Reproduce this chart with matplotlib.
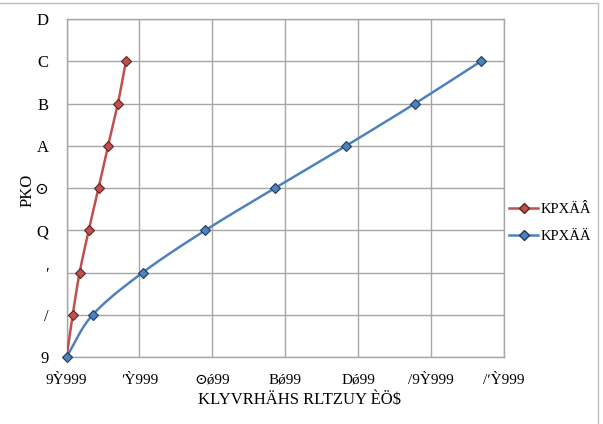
import numpy as np
import matplotlib
matplotlib.use("Agg")
import matplotlib.pyplot as plt
from matplotlib.patches import Rectangle
from matplotlib.lines import Line2D

# Data
red_x = [0.0, 0.17, 0.36, 0.61, 0.88, 1.14, 1.41, 1.63]
red_y = [0, 1, 2, 3, 4, 5, 6, 7]
blue_x = [0.0, 0.72, 2.09, 3.81, 5.72, 7.67, 9.56, 11.37]
blue_y = [0, 1, 2, 3, 4, 5, 6, 7]

x_ticks = [0, 2, 4, 6, 8, 10, 12]
x_tick_labels = ["9Ỳ999", "ʹỲ999", "⊙ǿ99", "Bǿ99", "Dǿ99", "/9Ỳ999", "/ʹỲ999"]
y_ticks = [0, 1, 2, 3, 4, 5, 6, 7, 8]
y_tick_labels = ["9", "/", "ʹ", "Q", "⊙", "A", "B", "C", "D"]
x_label = "KLYVRHÄHS RLTZUY ÈÖ$"
y_label = "PKO"
legend_labels = ["KPXÄÂ", "KPXÄÄ"]

red_color = "#C0504D"
blue_color = "#4F81BD"


def smooth(xs, ys, n=30):
    # Catmull-Rom style rendering of a smoothed line through the points
    xs = np.asarray(xs, float); ys = np.asarray(ys, float)
    P = np.column_stack([xs, ys])
    P = np.vstack([P[0] - (P[1] - P[0]), P, P[-1] + (P[-1] - P[-2])])
    out = []
    for i in range(1, len(P) - 2):
        p0, p1, p2, p3 = P[i - 1], P[i], P[i + 1], P[i + 2]
        t = np.linspace(0, 1, n)[:, None]
        seg = 0.5 * ((2 * p1) + (-p0 + p2) * t + (2 * p0 - 5 * p1 + 4 * p2 - p3) * t ** 2
                     + (-p0 + 3 * p1 - 3 * p2 + p3) * t ** 3)
        out.append(seg)
    S = np.vstack(out)
    return S[:, 0], S[:, 1]


fig = plt.figure(figsize=(6.03, 4.24), dpi=100)
W, H = 603, 424
ax = fig.add_axes([66.5 / W, 1 - 357 / H, (504 - 66.5) / W, (357 - 19) / H])

serif = ["Liberation Serif", "DejaVu Serif"]

sx, sy = smooth(red_x, red_y)
ax.plot(sx, sy, color=red_color, lw=1.8, zorder=3)
ax.plot(red_x, red_y, ls="none", marker="D", ms=5, mfc=red_color, mec="#5a2422", mew=0.8, zorder=4)
sx, sy = smooth(blue_x, blue_y)
ax.plot(sx, sy, color=blue_color, lw=1.8, zorder=3)
ax.plot(blue_x, blue_y, ls="none", marker="D", ms=5, mfc=blue_color, mec="#1f3a5c", mew=0.8,
        zorder=4, clip_on=False)

ax.set_xlim(0, 12)
ax.set_ylim(0, 8)
ax.set_xticks(x_ticks)
ax.set_xticklabels(x_tick_labels, fontfamily=serif, fontsize=11)
ax.set_yticks(y_ticks)
ax.set_yticklabels(y_tick_labels, fontfamily=serif, fontsize=12)
ax.tick_params(axis="x", length=0, pad=12)
ax.tick_params(axis="y", length=0, pad=13)
ax.grid(True, color="#a6a6a6", lw=1.0)
ax.set_axisbelow(True)
for s in ax.spines.values():
    s.set_color("#a6a6a6")
    s.set_linewidth(1.0)
ax.set_xlabel(x_label, fontfamily=serif, fontsize=12)
ax.set_ylabel(y_label, fontfamily=serif, fontsize=12)
ax.xaxis.set_label_coords((300 - 66.5) / 437.5, (357 - 392) / 338)
ax.yaxis.set_label_coords((36 - 66.5) / 437.5, (357 - 190) / 338)

h1 = Line2D([], [], color=red_color, lw=1.8, marker="D", ms=5, mfc=red_color, mec="#5a2422")
h2 = Line2D([], [], color=blue_color, lw=1.8, marker="D", ms=5, mfc=blue_color, mec="#1f3a5c")
fig.legend([h1, h2], legend_labels, loc="center left", bbox_to_anchor=(506 / W, 1 - 223 / H),
           frameon=False, prop={"family": serif, "size": 10.5}, handlelength=2.0,
           handletextpad=0.2, labelspacing=0.9, borderaxespad=0, borderpad=0.2)

fig.patches.append(Rectangle((-5 / W, -10 / H), (598 + 5) / W, (421 + 10) / H, transform=fig.transFigure,
                             fill=False, ec="#bfbfbf", lw=1.0))

fig.savefig("out.png", dpi=100)
